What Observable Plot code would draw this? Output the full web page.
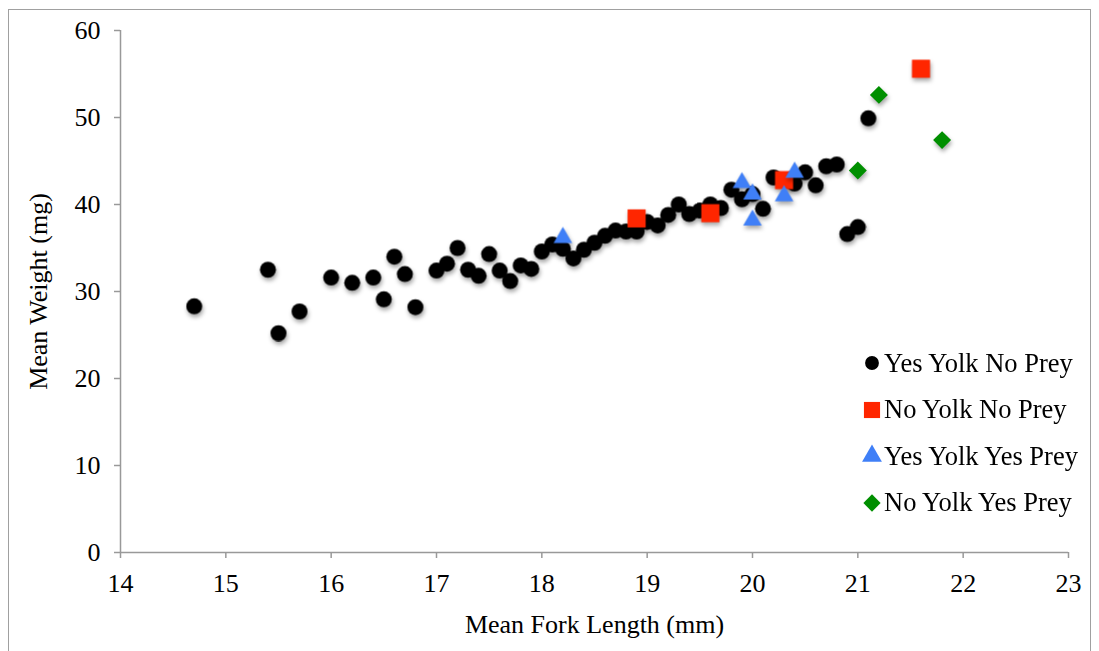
<!DOCTYPE html>
<html>
<head>
<meta charset="utf-8">
<script src="https://cdn.jsdelivr.net/npm/d3@7"></script>
<script src="https://cdn.jsdelivr.net/npm/@observablehq/plot@0.6"></script>
<style>
  body { margin: 0; background: #fff; }
  #wrap { position: relative; width: 1099px; height: 651px; overflow: hidden; font-family: "Liberation Serif", "Times New Roman", serif; }
  #border { position: absolute; left: 8px; top: 9px; width: 1083px; height: 700px; border: 1.5px solid #a0a0a0; box-sizing: border-box; }
  #chart { position: absolute; left: 0; top: 0; }
  #chart g[aria-label*="axis"] line, #chart g[aria-label*="axis"] path { stroke: #999; stroke-width: 1.5; stroke-opacity: 1; }
  #chart g[aria-label="dot"] { filter: drop-shadow(1px 3px 2px rgba(0,0,0,0.35)); }
  #legend { position: absolute; left: 860px; top: 340px; font-size: 26.5px; color: #000; }
  #legend .row { height: 46.5px; display: flex; align-items: center; white-space: nowrap; }
  #legend svg { width: 24px; height: 24px; margin-right: 0px; overflow: visible; }
</style>
</head>
<body>
<div id="wrap">
  <div id="border"></div>
  <div id="chart"></div>
  <div id="legend"></div>
</div>
<script>
// ---- data ----
const seriesNames = ["Yes Yolk No Prey", "No Yolk No Prey", "Yes Yolk Yes Prey", "No Yolk Yes Prey"];
const seriesColors = ["#000000", "#ff2600", "#3f7ff7", "#008f00"];
const seriesSymbols = ["circle", "square", "triangle", "diamond2"];
const xTicks = [14, 15, 16, 17, 18, 19, 20, 21, 22, 23];
const yTicks = [0, 10, 20, 30, 40, 50, 60];

const yesYolkNoPrey = [
  [14.7, 28.3], [15.4, 32.5], [15.5, 25.2], [15.7, 27.7], [16.0, 31.6], [16.2, 31.0],
  [16.4, 31.6], [16.5, 29.1], [16.6, 34.0], [16.7, 32.0], [16.8, 28.2], [17.0, 32.4],
  [17.1, 33.2], [17.2, 35.0], [17.3, 32.5], [17.4, 31.8], [17.5, 34.3], [17.6, 32.4],
  [17.7, 31.2], [17.8, 33.0], [17.9, 32.6], [18.0, 34.6], [18.1, 35.4], [18.2, 34.9],
  [18.3, 33.8], [18.4, 34.8], [18.5, 35.6], [18.6, 36.4], [18.7, 37.0], [18.8, 36.9],
  [18.9, 36.9], [19.0, 38.0], [19.1, 37.6], [19.2, 38.8], [19.3, 40.0], [19.4, 38.9],
  [19.5, 39.3], [19.6, 40.0], [19.7, 39.6], [19.8, 41.7], [19.9, 40.6], [20.0, 41.2],
  [20.1, 39.5], [20.2, 43.1], [20.4, 42.4], [20.5, 43.7], [20.6, 42.2], [20.7, 44.4],
  [20.8, 44.6], [20.9, 36.6], [21.0, 37.4], [21.1, 49.9]
];
const noYolkNoPrey = [[18.9, 38.4], [19.6, 39.0], [20.3, 42.8], [21.6, 55.6]];
const yesYolkYesPrey = [[18.2, 36.2], [19.9, 42.5], [20.0, 41.2], [20.0, 38.2], [20.3, 41.0], [20.4, 43.7]];
const noYolkYesPrey = [[21.0, 43.9], [21.2, 52.6], [21.8, 47.4]];

const groups = [yesYolkNoPrey, noYolkNoPrey, yesYolkYesPrey, noYolkYesPrey];
const radii = [8, 10.2, 6.9, 8.1];

const dotMarks = groups.map((g, i) =>
  Plot.dot(g, { x: d => d[0], y: d => d[1], symbol: () => seriesSymbols[i], fill: seriesColors[i], r: radii[i], stroke: "none" })
);

const chart = Plot.plot({
  width: 1099,
  height: 651,
  marginLeft: 120,
  marginRight: 31,
  marginTop: 30,
  marginBottom: 99,
  style: { fontFamily: '"Liberation Serif", "Times New Roman", serif', fontSize: "26px", background: "transparent", color: "#000", overflow: "visible" },
  symbol: { type: "identity" },
  x: { domain: [14, 23], ticks: xTicks, tickSize: 6, tickPadding: 15, tickFormat: d => String(d), label: "Mean Fork Length (mm)", labelAnchor: "center", labelOffset: 80, labelArrow: "none" },
  y: { domain: [0, 60], ticks: yTicks, tickSize: 6, tickPadding: 14, tickFormat: d => String(d), label: "Mean Weight (mg)", labelAnchor: "center", labelOffset: 92, labelArrow: "none" },
  marks: [
    Plot.ruleX([14], { stroke: "#999", strokeWidth: 1.5 }),
    Plot.ruleY([0], { stroke: "#999", strokeWidth: 1.5 }),
    ...dotMarks
  ]
});
document.getElementById("chart").appendChild(chart);

// ---- legend ----
const legend = d3.select("#legend");
const symMap = { circle: d3.symbolCircle, square: d3.symbolSquare, triangle: d3.symbolTriangle, diamond2: d3.symbolDiamond2 };
const legendSizes = [150, 260, 170, 190];
seriesNames.forEach((name, i) => {
  const row = legend.append("div").attr("class", "row");
  const s = row.append("svg").attr("viewBox", "-12 -12 24 24");
  s.append("path").attr("d", d3.symbol(symMap[seriesSymbols[i]], legendSizes[i])()).attr("fill", seriesColors[i]);
  row.append("span").text(name);
});
</script>
</body>
</html>
